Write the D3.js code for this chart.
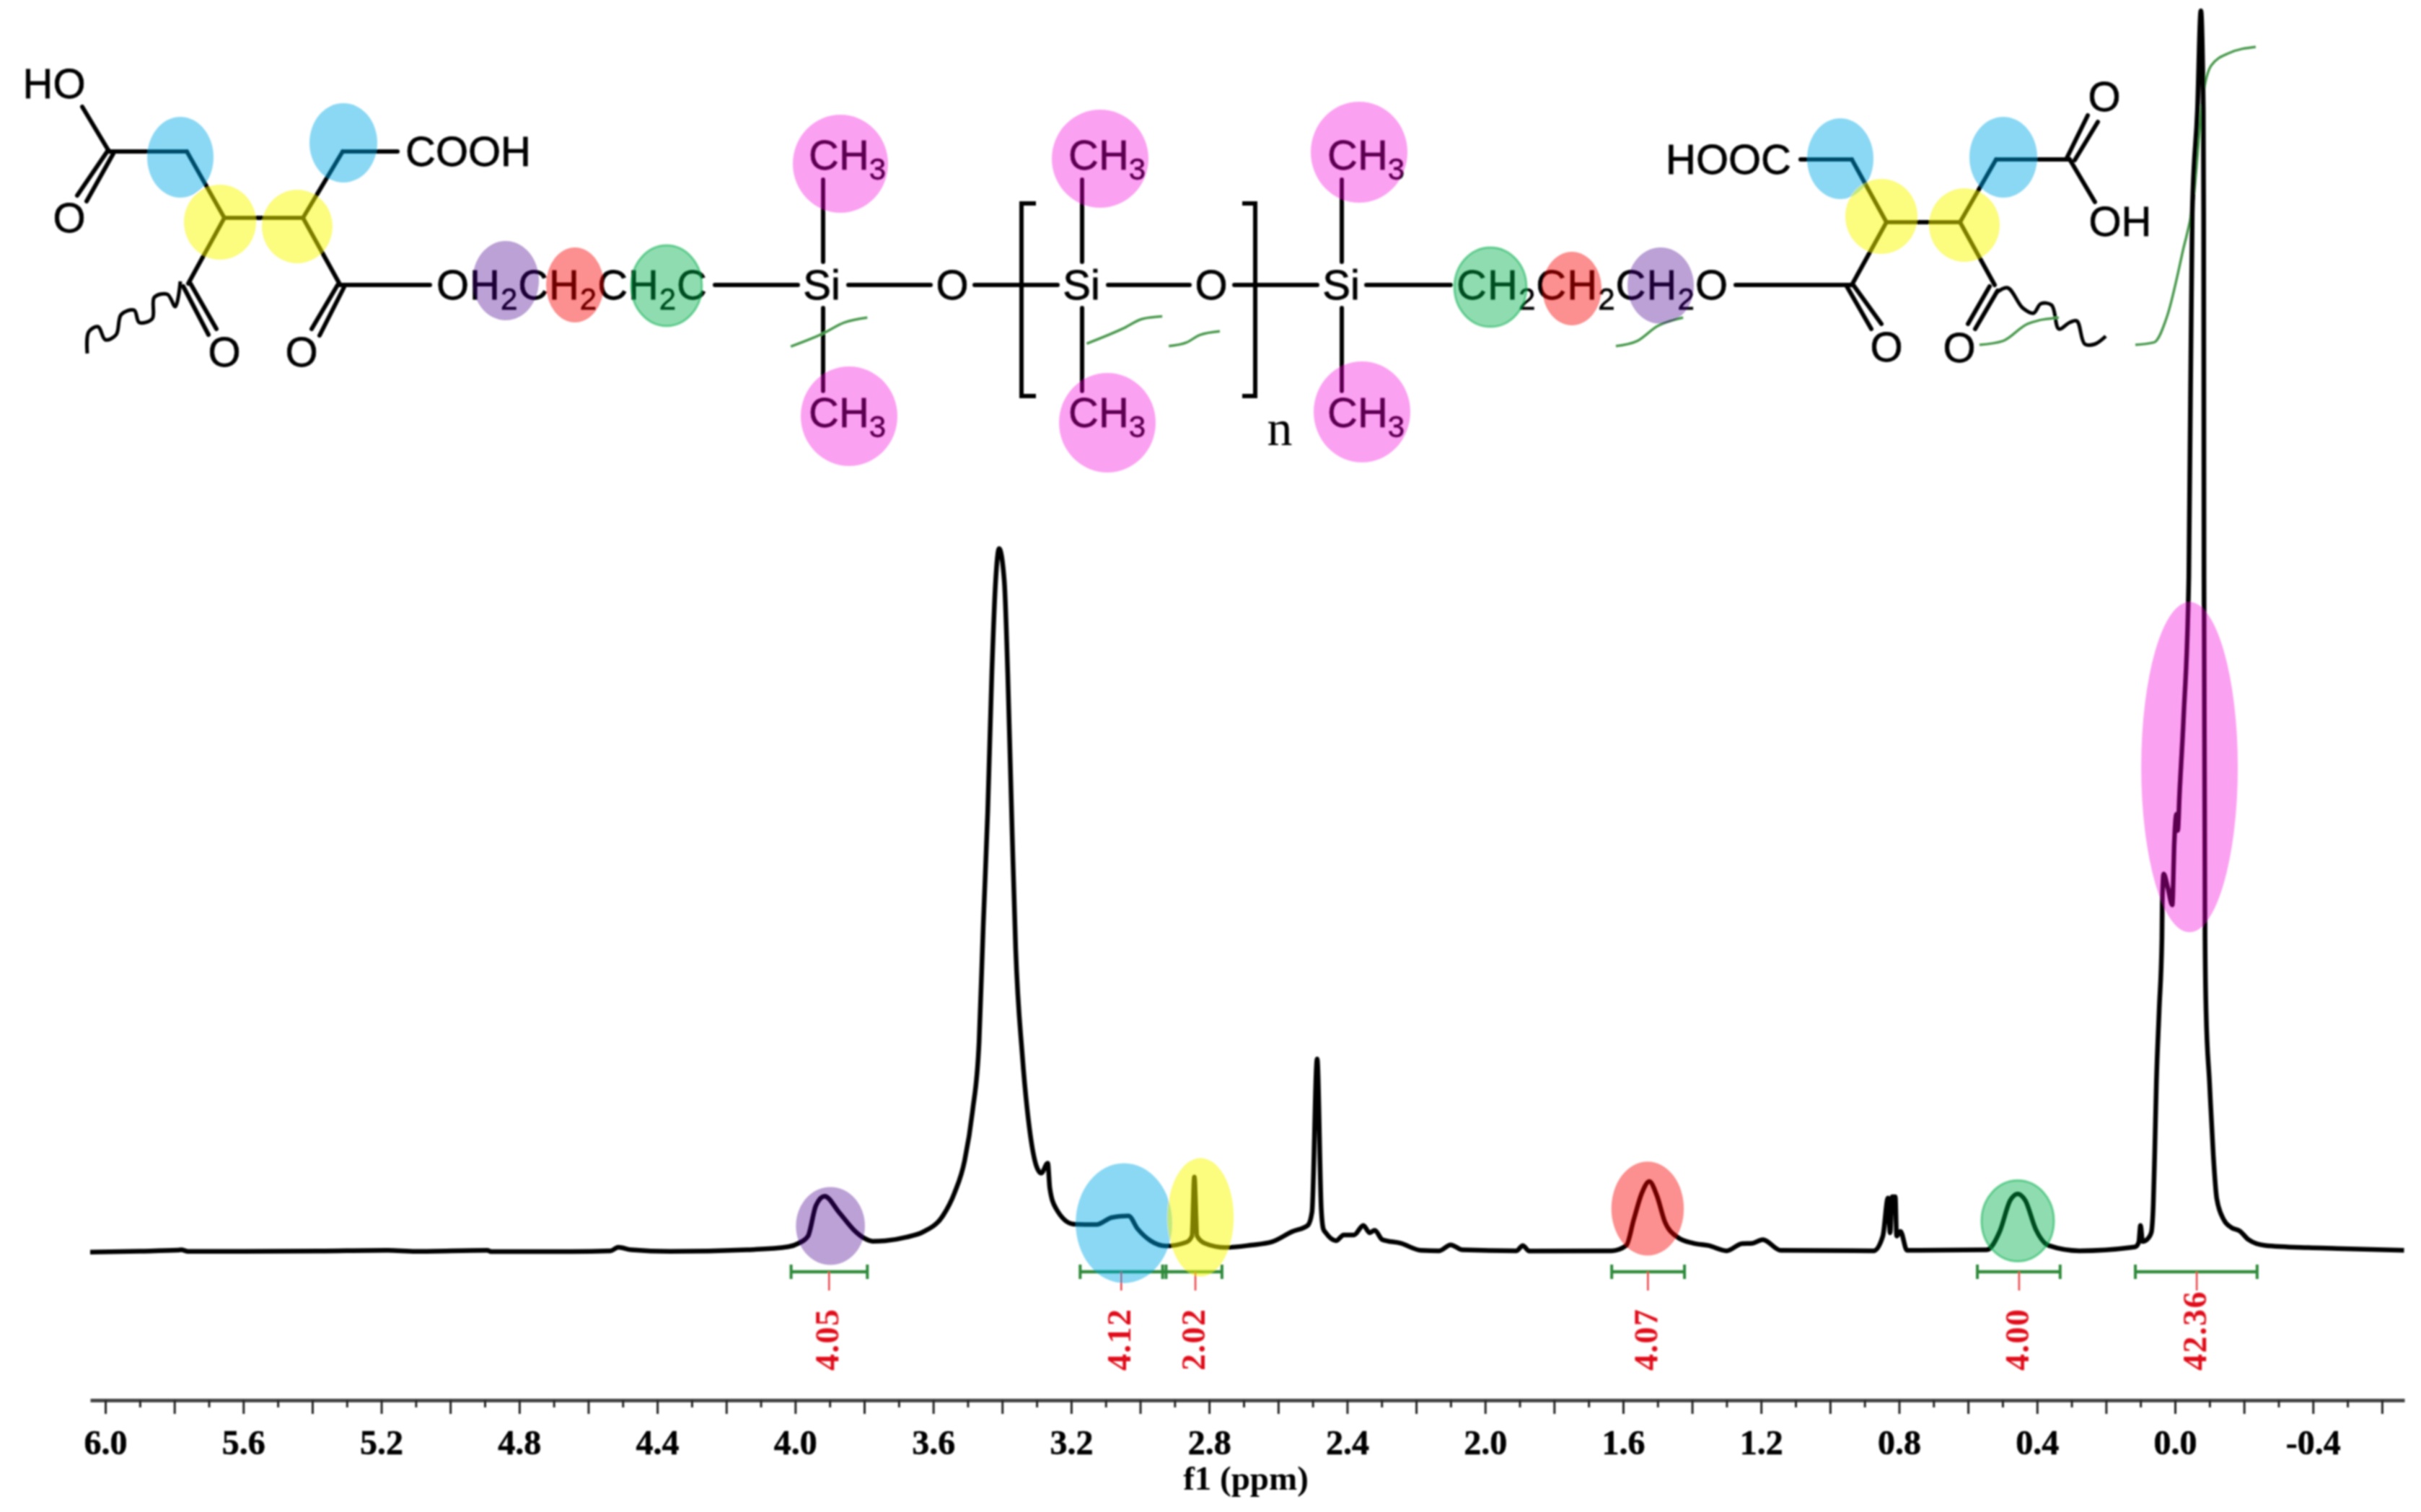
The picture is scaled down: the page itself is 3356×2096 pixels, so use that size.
<!DOCTYPE html>
<html>
<head>
<meta charset="utf-8">
<script src="https://cdn.jsdelivr.net/npm/d3@7"></script>
<style>
  body { margin: 0; background: #fff; }
  svg { display: block; }
</style>
</head>
<body>
<div id="chart"></div>
<script>
// spectrum (ppm, intensity with clipped top peak = 100)
const spectrumPpm = [6.044, 5.9, 5.79, 5.78, 5.76, 5.6, 5.38, 5.185, 5.1, 4.893, 4.88, 4.7, 4.535, 4.513, 4.475, 4.363, 4.139, 4.02, 3.99, 3.963, 3.94, 3.915, 3.873, 3.829, 3.799, 3.776, 3.739, 3.679, 3.628, 3.572, 3.538, 3.509, 3.486, 3.467, 3.455, 3.442, 3.43, 3.419, 3.409, 3.394, 3.384, 3.371, 3.361, 3.342, 3.321, 3.3, 3.287, 3.268, 3.262, 3.245, 3.193, 3.127, 3.082, 3.034, 3.007, 2.97, 2.925, 2.865, 2.85, 2.843, 2.835, 2.813, 2.753, 2.678, 2.619, 2.559, 2.514, 2.502, 2.487, 2.475, 2.469, 2.462, 2.432, 2.41, 2.38, 2.353, 2.335, 2.32, 2.298, 2.245, 2.186, 2.133, 2.1, 2.066, 1.909, 1.891, 1.872, 1.633, 1.591, 1.569, 1.546, 1.524, 1.502, 1.479, 1.442, 1.397, 1.352, 1.3, 1.255, 1.225, 1.195, 1.143, 0.874, 0.847, 0.832, 0.826, 0.82, 0.811, 0.807, 0.796, 0.777, 0.546, 0.508, 0.478, 0.456, 0.434, 0.404, 0.366, 0.277, 0.127, 0.115, 0.105, 0.1, 0.094, 0.084, 0.069, 0.063, 0.059, 0.054, 0.046, 0.038, 0.037, 0.033, 0.021, 0.008, 0.002, -0.004, -0.008, -0.013, -0.025, -0.04, -0.05, -0.065, -0.075, -0.082, -0.083, -0.084, -0.087, -0.09, -0.1, -0.111, -0.121, -0.142, -0.163, -0.188, -0.213, -0.261, -0.387, -0.47, -0.664];
const spectrumInt = [0.05, 0.12, 0.2, 0.23, 0.1, 0.1, 0.13, 0.19, 0.1, 0.19, 0.08, 0.08, 0.15, 0.44, 0.23, 0.1, 0.23, 0.48, 0.76, 1.34, 3.8, 4.55, 3.25, 1.8, 1.15, 0.92, 0.96, 1.24, 1.69, 2.97, 4.83, 7.4, 11.4, 17, 26.3, 35.5, 46.7, 54.1, 56.7, 54.1, 46.7, 33.7, 24.5, 16, 10, 6.9, 6.4, 7.2, 5.2, 3.6, 2.3, 2.26, 2.83, 2.96, 1.9, 0.96, 0.54, 0.86, 1.34, 6.1, 1.34, 0.76, 0.42, 0.61, 0.86, 1.7, 2.2, 3.25, 15.6, 3.5, 1.9, 1.6, 0.96, 1.43, 1.43, 2.2, 1.6, 1.8, 1.05, 0.76, 0.19, 0.15, 0.63, 0.23, 0.15, 0.57, 0.13, 0.15, 0.57, 2.68, 4.78, 5.74, 4.59, 2.49, 1.24, 0.76, 0.57, 0.15, 0.73, 0.76, 1.05, 0.19, 0.15, 1.34, 4.4, 1.6, 4.5, 4.5, 1.34, 1.72, 0.19, 0.23, 1.72, 4.2, 4.74, 4.2, 1.9, 0.57, 0.15, 0.42, 0.47, 0.85, 2.2, 0.9, 1, 1.6, 3.9, 7.85, 13.7, 19.5, 25.3, 28, 30.5, 29.4, 28, 33.1, 35.3, 34, 36.9, 43.2, 54.4, 83.7, 92, 100, 92, 83.7, 54.4, 25.3, 19.5, 13.7, 7.85, 4.36, 2.62, 2.03, 1.74, 1.05, 0.58, 0.4, 0.34, 0.19];

// integrals
const integralValues = [4.05, 4.12, 2.02, 4.07, 4.00, 42.36];
const integralFrom = [4.012, 3.174, 2.935, 1.633, 0.573, 0.115];
const integralTo = [3.791, 2.925, 2.763, 1.422, 0.333, -0.238];
const integralMid = [3.902, 3.055, 2.84, 1.528, 0.452, -0.063];
const integralCurvePpm = [
  [4.013, 3.921, 3.858, 3.791],
  [3.155, 3.051, 2.993, 2.936],
  [2.917, 2.865, 2.827, 2.769],
  [1.621, 1.56, 1.501, 1.426],
  [0.567, 0.5, 0.427, 0.337],
  [0.115, 0.061, 0.023, -0.023, -0.052, -0.082, -0.105, -0.157, -0.234]
];
const integralCurveLevel = [
  [72.97, 74, 74.9, 75.3],
  [73.2, 74.4, 75.2, 75.4],
  [73, 73.3, 73.9, 74.2],
  [73, 73.4, 74.6, 75.3],
  [73.1, 73.4, 74.8, 75.3],
  [73.1, 73.3, 75.4, 80.7, 84.5, 93.3, 95.6, 96.6, 97.1]
];

// coloured peak highlights (ppm, intensity)
const peakColors = ["purple", "blue", "yellow", "red", "green", "pink"];
const peakPpm = [3.898, 3.047, 2.825, 1.529, 0.456, -0.042];
const peakLevel = [2.15, 2.38, 2.85, 3.55, 2.56, 39.1];
const peakHalfPpm = [0.1, 0.14, 0.096, 0.105, 0.105, 0.14];
const peakHalfLevel = [3.14, 4.83, 4.77, 3.78, 3.26, 13.3];

// axis
const majorTicks = [6.0, 5.8, 5.6, 5.4, 5.2, 5.0, 4.8, 4.6, 4.4, 4.2, 4.0, 3.8, 3.6, 3.4, 3.2, 3.0, 2.8, 2.6, 2.4, 2.2, 2.0, 1.8, 1.6, 1.4, 1.2, 1.0, 0.8, 0.6, 0.4, 0.2, 0.0, -0.2, -0.4, -0.6];
const minorTicks = [5.9, 5.7, 5.5, 5.3, 5.1, 4.9, 4.7, 4.5, 4.3, 4.1, 3.9, 3.7, 3.5, 3.3, 3.1, 2.9, 2.7, 2.5, 2.3, 2.1, 1.9, 1.7, 1.5, 1.3, 1.1, 0.9, 0.7, 0.5, 0.3, 0.1, -0.1, -0.3, -0.5];
const labelTicks = [6.0, 5.6, 5.2, 4.8, 4.4, 4.0, 3.6, 3.2, 2.8, 2.4, 2.0, 1.6, 1.2, 0.8, 0.4, 0.0, -0.4];
const labelText = ["6.0", "5.6", "5.2", "4.8", "4.4", "4.0", "3.6", "3.2", "2.8", "2.4", "2.0", "1.6", "1.2", "0.8", "0.4", "0.0", "-0.4"];

const colors = {
  blue: ["rgb(0,170,232)", 0.46], yellow: ["rgb(250,250,0)", 0.5], pink: ["rgb(243,0,216)", 0.37],
  purple: ["rgb(73,0,140)", 0.37], red: ["rgb(248,0,0)", 0.44], green: ["rgb(0,175,75)", 0.44]
};

const width = 3356, height = 2096;
const axisY = 1941;
const sans = "'Liberation Sans', Arial, sans-serif";
const serif = "'Liberation Serif', 'Times New Roman', serif";

const svg = d3.select("#chart").append("svg").attr("width", width).attr("height", height);
svg.append("rect").attr("width", width).attr("height", height).attr("fill", "#fff");
const defs = svg.append("defs");
defs.append("filter").attr("id", "soft").attr("filterUnits", "userSpaceOnUse")
  .attr("x", 0).attr("y", 0).attr("width", width).attr("height", height)
  .append("feGaussianBlur").attr("stdDeviation", 1.1);
const root = svg.append("g").attr("filter", "url(#soft)");

const x = d3.scaleLinear().domain([6.044, -0.665]).range([125, 3333]);
const y = d3.scaleLinear().domain([0, 100]).range([1736.5, 15]);

// chemical structure, plain picture coordinates
const structure = root.append("g");
const bonds = [
  [114,148,150,208],[150,208,107,271],[157,213,120,279],[150,210,259,210],[259,210,311,302],[311,302,420,302],
  [311,302,261,393],[264,393,300,456],[254,397,289,464],[420,302,475,210],[475,210,551,210],[420,302,471,394],
  [468,395,432,456],[477,398,443,465],[471,395,596,395],[991,395,1106,395],[1176,395,1290,395],[1351,395,1466,395],
  [1536,395,1649,395],[1711,395,1826,395],[1894,395,2011,395],
  [1141,249,1141,363],[1141,427,1141,542],[1500,249,1500,363],[1500,427,1500,542],[1860,249,1860,363],[1860,427,1860,542],
  [2406,395,2567,395],[2567,395,2615,308],[2615,308,2717,308],[2615,308,2567,221],[2567,221,2496,221],
  [2717,308,2767,221],[2767,221,2869,221],[2869,221,2904,280],[2865,219,2894,160],[2876,222,2908,169],
  [2717,308,2765,395],[2758,397,2728,449],[2769,403,2738,456],[2560,397,2594,456],[2569,395,2608,449]
];
structure.selectAll("line.bond").data(bonds).enter().append("line").classed("bond", true)
  .attr("x1", d => d[0]).attr("y1", d => d[1]).attr("x2", d => d[2]).attr("y2", d => d[3])
  .attr("stroke", "#000").attr("stroke-width", 6).attr("stroke-linecap", "round");

const brackets = ["M1436,282H1416V549H1436", "M1722,282H1740V549H1722"];
structure.selectAll("path.bracket").data(brackets).enter().append("path").classed("bracket", true)
  .attr("d", d => d).attr("fill", "none").attr("stroke", "#000").attr("stroke-width", 6);

const waves = [
  [[250,390],[243,425],[232,408],[214,412],[211,442],[193,447],[186,430],[168,436],[161,464],[146,471],[136,453],[123,460],[121,490]],
  [[2767,406],[2783,399],[2804,427],[2819,434],[2829,421],[2844,423],[2854,456],[2869,447],[2879,445],[2890,477],[2904,477],[2919,466]]
];
structure.selectAll("path.wave").data(waves).enter().append("path").classed("wave", true)
  .attr("d", d3.line().curve(d3.curveCatmullRom))
  .attr("fill", "none").attr("stroke", "#000").attr("stroke-width", 5);

// label: text, x, centre y, anchor; "_" starts a subscript digit
const labels = [
  ["HO",75,116,"middle"],["O",96,302,"middle"],["O",311,488,"middle"],["O",418,488,"middle"],["COOH",562,210,"start"],
  ["Si",1139,395,"middle"],["O",1320,395,"middle"],["Si",1499,395,"middle"],["O",1679,395,"middle"],["Si",1859,395,"middle"],
  ["CH_3",1121,215,"start"],["CH_3",1481,215,"start"],["CH_3",1840,215,"start"],
  ["CH_3",1121,572,"start"],["CH_3",1481,572,"start"],["CH_3",1840,572,"start"],
  ["HOOC",2483,221,"end"],["OH",2939,307,"middle"],["O",2917,134,"middle"],["O",2716,482,"middle"],["O",2615,481,"middle"]
];
function addChemText(g, s, px, py, anchor, fit) {
  const t = g.append("text").attr("x", px).attr("y", py + 20).attr("text-anchor", anchor)
    .attr("font-family", sans).attr("font-size", 58).attr("fill", "#000")
    .attr("stroke", "#000").attr("stroke-width", 0.8);
  if (fit) t.attr("textLength", fit).attr("lengthAdjust", "spacing");
  s.split("_").forEach((part, i) => {
    if (i === 0) { t.append("tspan").text(part); return; }
    t.append("tspan").attr("dy", 14).attr("font-size", 42).text(part[0]);
    if (part.length > 1) t.append("tspan").attr("dy", -14).text(part.slice(1));
  });
}
labels.forEach(d => addChemText(structure, d[0], d[1], d[2], d[3]));
addChemText(structure, "OH_2CH_2CH_2C", 605, 395, "start", 375);
addChemText(structure, "CH_2CH_2CH_2O", 2019, 395, "start", 376);
structure.append("text").attr("x", 1774).attr("y", 617).attr("text-anchor", "middle")
  .attr("font-family", serif).attr("font-size", 70).text("n");

// integral curves run across the structure
const curveLine = d3.line().x(d => x(d[0])).y(d => y(d[1])).curve(d3.curveMonotoneX);
root.selectAll("path.integral").data(integralCurvePpm.map((c, i) => c.map((p, j) => [p, integralCurveLevel[i][j]])))
  .enter().append("path").classed("integral", true)
  .attr("d", curveLine).attr("fill", "none").attr("stroke", "#4a9a4e").attr("stroke-width", 3.5);

// spectrum trace
root.append("path").datum(spectrumPpm.map((p, i) => [p, spectrumInt[i]]))
  .attr("d", curveLine).attr("fill", "none").attr("stroke", "#000")
  .attr("stroke-width", 6.5).attr("stroke-linejoin", "round");

// integral brackets and values
const bracketY = 1763;
root.selectAll("line.range").data(integralFrom).enter().append("line").classed("range", true)
  .attr("x1", d => x(d)).attr("x2", (d, i) => x(integralTo[i]))
  .attr("y1", bracketY).attr("y2", bracketY).attr("stroke", "#2f8a3a").attr("stroke-width", 4.5);
root.selectAll("line.cap").data(integralFrom.concat(integralTo)).enter().append("line").classed("cap", true)
  .attr("x1", d => x(d)).attr("x2", d => x(d))
  .attr("y1", bracketY - 10).attr("y2", bracketY + 10).attr("stroke", "#2f8a3a").attr("stroke-width", 4);
root.selectAll("line.mid").data(integralMid).enter().append("line").classed("mid", true)
  .attr("x1", d => x(d)).attr("x2", d => x(d))
  .attr("y1", bracketY).attr("y2", 1789).attr("stroke", "#e8444a").attr("stroke-width", 2.5);
root.selectAll("text.value").data(integralValues).enter().append("text").classed("value", true)
  .attr("transform", (d, i) => `translate(${x(integralMid[i]) - 3},1900) rotate(-90)`)
  .attr("dominant-baseline", "central")
  .attr("font-family", serif).attr("font-weight", "bold").attr("font-size", 46).attr("letter-spacing", 1.5)
  .attr("fill", "#e0101a").text(d => d.toFixed(2));

// axis
const tickName = new Map(labelTicks.map((t, i) => [t, labelText[i]]));
const axisMajor = d3.axisBottom(x).tickValues(majorTicks).tickSize(19).tickSizeOuter(0).tickPadding(22)
  .tickFormat(d => tickName.get(d) || "");
const axisMinor = d3.axisBottom(x).tickValues(minorTicks).tickSize(10).tickSizeOuter(0).tickFormat("");
const gMajor = root.append("g").attr("transform", `translate(0,${axisY})`).call(axisMajor);
const gMinor = root.append("g").attr("transform", `translate(0,${axisY})`).call(axisMinor);
gMajor.select(".domain").attr("stroke", "#444").attr("stroke-width", 5);
gMinor.select(".domain").remove();
root.selectAll(".tick line").attr("stroke", "#222").attr("stroke-width", 3);
gMajor.selectAll("text").attr("font-family", serif).attr("font-weight", "bold").attr("font-size", 48)
  .attr("fill", "#000").attr("stroke", "#000").attr("stroke-width", 0.6);
root.append("text").attr("x", 1727).attr("y", 2065).attr("text-anchor", "middle")
  .attr("font-family", serif).attr("font-weight", "bold").attr("font-size", 47).text("f1 (ppm)");

// highlight ellipses sit on top and tint what is under them
const spots = [
  ["blue",250,218,46,56],["blue",476,198,47,55],["yellow",305,308,50,52],["yellow",412,314,49,51],
  ["purple",701,389,46,55],["red",797,395,40,52],["green",924,396,49,56],
  ["pink",1165,227,66,68],["pink",1177,577,67,69],["pink",1525,220,67,68],["pink",1535,586,67,69],
  ["pink",1884,211,67,70],["pink",1888,571,67,70],
  ["green",2066,398,50,55],["red",2179,400,41,51],["purple",2302,396,46,53],
  ["blue",2551,220,46,56],["blue",2777,218,47,56],["yellow",2608,300,50,52],["yellow",2723,312,49,51]
];
function paint(sel) {
  sel.attr("fill", d => colors[d[0]][0]).attr("fill-opacity", d => colors[d[0]][1])
    .attr("stroke", d => d[0] === "green" ? "rgb(0,175,75)" : "none")
    .attr("stroke-opacity", 0.5).attr("stroke-width", 3);
}
root.selectAll("ellipse.spot").data(spots).enter().append("ellipse").classed("spot", true)
  .attr("cx", d => d[1]).attr("cy", d => d[2]).attr("rx", d => d[3]).attr("ry", d => d[4]).call(paint);
root.selectAll("ellipse.peak").data(peakColors.map((c, i) => [c, i])).enter().append("ellipse").classed("peak", true)
  .attr("cx", d => x(peakPpm[d[1]])).attr("cy", d => y(peakLevel[d[1]]))
  .attr("rx", d => x(peakPpm[d[1]] - peakHalfPpm[d[1]]) - x(peakPpm[d[1]]))
  .attr("ry", d => y(peakLevel[d[1]]) - y(peakLevel[d[1]] + peakHalfLevel[d[1]])).call(paint);
</script>
</body>
</html>
